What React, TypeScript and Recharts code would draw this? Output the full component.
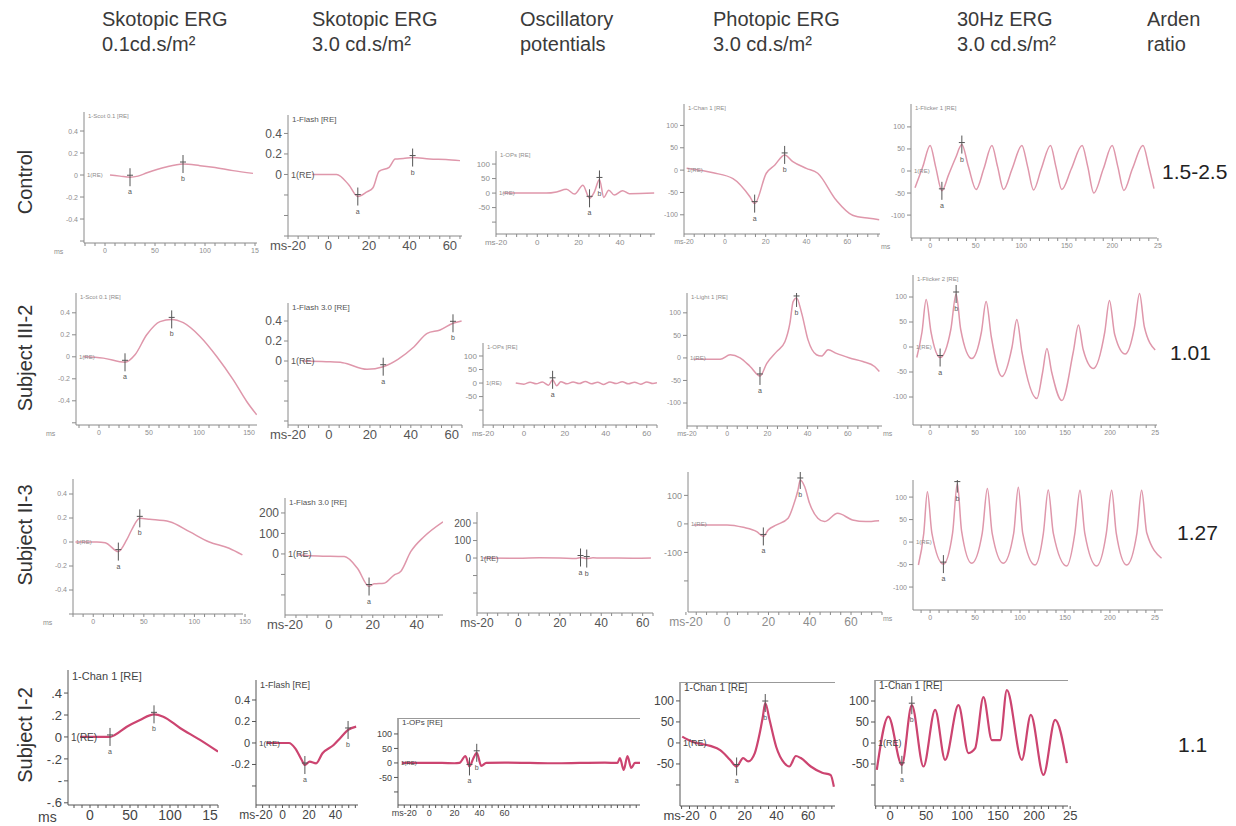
import React from 'react';
import { LineChart, Line, XAxis, YAxis, ReferenceLine } from 'recharts';

type Pt = [number, number, string?];

const columnTitles = [
  ['Skotopic ERG', '0.1cd.s/m²'],
  ['Skotopic ERG', '3.0 cd.s/m²'],
  ['Oscillatory', 'potentials'],
  ['Photopic ERG', '3.0 cd.s/m²'],
  ['30Hz ERG', '3.0 cd.s/m²'],
  ['Arden', 'ratio'],
];
const rowLabels = ['Control', 'Subject III-2', 'Subject II-3', 'Subject I-2'];
const ardenRatios = ['1.5-2.5', '1.01', '1.27', '1.1'];

// traces: [ms, amplitude, marker]
const ctlScot01: Pt[] = [[5, 0], [15, -0.01], [25, -0.02, 'a'], [33, -0.01], [42, 0.02], [60, 0.07], [78, 0.1, 'b'], [95, 0.085], [108, 0.07], [128, 0.04], [148, 0.015]];
const ctlScot30: Pt[] = [[-8, 0], [4, 0], [10, -0.1], [14.5, -0.215, 'a'], [19, -0.17], [22, -0.13], [25, 0.03], [30, 0.07], [33, 0.15], [37, 0.155], [41.6, 0.165, 'b'], [50, 0.15], [58, 0.145], [65, 0.135]];
const ctlOps: Pt[] = [[-16.5, 0], [4.4, 0], [9.3, 4], [14.1, 13], [18.1, -3.5], [22.1, 27], [25.3, -18, 'a'], [27.7, 5], [30.1, 47, 'b'], [32.2, -15], [34.6, 10], [37.3, -7], [41.3, 8], [44.6, -2], [56.6, 0]];
const ctlPhot: Pt[] = [[-18.7, 4], [-5.7, -6], [4, -19], [12.2, -59], [14.6, -75, 'a'], [20.3, -7], [24.4, 11], [29.3, 34, 'b'], [33.3, 19], [39.9, 4], [45.5, -7], [54.5, -67], [62.6, -101], [70.7, -108], [75.6, -111]];
const ctlFlicker: Pt[] = [[-16.6, -38], [-8, 10], [0, 58], [6, 10], [12.9, -45, 'a'], [20, -10], [28, 30], [34.8, 60, 'b'], [42, 10], [50.5, -42], [59, 5], [67.8, 58], [74, 10], [80.6, -42], [90, 5], [100.7, 58], [107, 10], [113.5, -43], [122, 5], [132.1, 58], [138, 10], [144.5, -42], [155, 5], [166.8, 58], [173, 10], [179.6, -50], [190, 5], [199.8, 58], [206, 10], [212.6, -44], [222, 5], [233.6, 58], [240, 10], [245.7, -40]];

const s32Scot01: Pt[] = [[-15.7, 0], [4.3, -0.012], [26, -0.05, 'a'], [36, 0.018], [47.7, 0.2], [61, 0.32], [72.7, 0.34, 'b'], [84.3, 0.31], [101, 0.185], [117.7, 0.003], [134.3, -0.21], [147.7, -0.406], [157.7, -0.527]];
const s32Scot30: Pt[] = [[-13, 0], [-1.3, -0.007], [6.7, -0.017], [18.6, -0.083], [26.5, -0.057, 'a'], [33.7, 0.017], [41.6, 0.143], [48, 0.277], [54.3, 0.31], [60.6, 0.377, 'b'], [64.8, 0.4]];
const s32Ops: Pt[] = [[-4, 0], [0, -4], [3, 3], [6, -3], [9, 4], [12, -8], [14, 12, 'a'], [16, -10], [18, 5], [21, -3], [24, 4], [27, -2], [30, 6], [33, -3], [36, 3], [39, -5], [42, 4], [45, -2], [48, 5], [51, -3], [54, 3], [57, -4], [60, 4], [63, -2], [65, 1]];
const s32Phot: Pt[] = [[-16.7, -3], [-3.5, -3], [1.5, 7], [6.4, 0], [11.4, -19], [16.3, -40, 'a'], [19.7, -12], [24.6, 14], [28.7, 36], [31.2, 77], [32.8, 125], [34.5, 133, 'b'], [37, 100], [40.2, 40], [44.4, 7], [46.9, 4], [50.2, 18], [54.3, 10], [60.9, 0], [67.5, -8], [73.3, -19], [75.7, -30]];
const s32Flicker: Pt[] = [[-14.8, -21], [-9, 30], [-4.4, 95], [1, 30], [11.1, -21, 'a'], [23, 35], [28.9, 106, 'b'], [34, 35], [46.3, -23], [57, 30], [62.2, 91], [68, 20], [79.7, -59], [91, 0], [96.3, 55], [102, -10], [118.6, -103], [125, -50], [129.7, -3], [135, -50], [146.3, -107], [159, -10], [164.8, 44], [170, -5], [181.4, -43], [194, 30], [199.2, 93], [205, 25], [216.7, -14], [227, 40], [232.6, 107], [238, 40], [250, -6]];

const s23Scot01: Pt[] = [[-17.6, 0], [3.6, 0], [11.8, -0.006], [24.8, -0.08, 'a'], [33, 0.017], [37.9, 0.1], [46, 0.197, 'b'], [55.9, 0.189], [75.5, 0.169], [95.1, 0.086], [114.7, 0], [134.3, -0.052], [147.4, -0.108]];
const s23Scot30: Pt[] = [[-14.2, -5], [-5.1, -10], [7, -13], [13, -70], [18.3, -159, 'a'], [20.6, -146], [25.1, -143], [29.7, -103], [32.7, -86], [37.3, 11], [43.3, 84], [52, 157]];
const s23Ops: Pt[] = [[-17, 0], [0, -1], [10, 1], [20, 0], [28, -2], [30, 3, 'a'], [33, -3, 'b'], [36, 1], [45, 0], [55, -1], [64, 0]];
const s23Phot: Pt[] = [[-16.2, -3.5], [-0.1, -3.5], [7.8, -12], [14.3, -27], [17.5, -44, 'a'], [19.9, -21], [23.9, -3.5], [29.5, 20], [31.9, 61], [34.3, 119], [35.4, 154, 'b'], [37.5, 131], [39.9, 72], [43.9, 20], [47.1, 8], [53.5, 37], [60.7, 14], [67.2, 8], [73.6, 11]];
const s23Flicker: Pt[] = [[-13, -51], [-7, 20], [-3, 112], [2, 20], [14.8, -49, 'a'], [25, 20], [30.3, 130, 'b'], [35, 25], [46.3, -47], [58, 20], [63.7, 119], [69, 20], [81.4, -47], [93, 20], [98.1, 122], [103, 20], [116.7, -51], [126, 20], [131.4, 116], [137, 20], [151.9, -53], [161, 20], [166.7, 115], [172, 20], [185.2, -53], [196, 20], [201.9, 115], [207, 20], [218.6, -51], [230, 20], [235.2, 115], [241, 20], [257.4, -36]];

const s12Scot01: Pt[] = [[-12.5, 0], [25, 0, 'a'], [31, 0.018], [46, 0.093], [62.5, 0.155], [80, 0.206, 'b'], [91.6, 0.185], [112.5, 0.082], [137.5, -0.027], [160, -0.134]];
const s12Scot30: Pt[] = [[-12.1, 0], [4.9, 0], [9.6, -0.05], [14.5, -0.158], [16.9, -0.205, 'a'], [20.5, -0.174], [25.4, -0.189], [30.2, -0.096], [38.6, -0.019], [43.5, 0.044], [49.5, 0.121, 'b'], [55.6, 0.152]];
const s12Ops: Pt[] = [[-22, 0], [10, 0], [20, -1], [24, 0], [28.8, 24], [32, -12, 'a'], [35.2, 17], [37.8, 35, 'b'], [41.4, -10], [45.4, 0], [60, 1], [80, 0], [100, -1], [120, 0], [140, 1], [150, 0], [152, 17], [155, -24], [158, 24], [161, -17], [164, 0], [168, 0]];
const s12Phot: Pt[] = [[-19.6, 15], [-13.3, 3], [-1.9, -7], [4.4, -17], [10.6, -40], [14.8, -56, 'a'], [18.9, -36], [22.1, -44], [26.3, -24], [29.4, 23], [31.4, 63], [32.9, 95, 'b'], [35.6, 55], [39.8, -9], [45, -48], [48.1, -56], [52.3, -31], [55.4, -36], [61.7, -56], [68.9, -71], [74.2, -76], [76.3, -104]];
const s12Flicker: Pt[] = [[-18.5, -64], [-2.4, 63], [16.3, -52, 'a'], [30.1, 90, 'b'], [46.3, -56], [62.5, 79], [76.4, -40], [94.9, 90], [108.8, -24], [118, -13], [129.6, 109], [141.3, 7], [152.8, 7], [162.1, 126], [182.9, -40], [195.4, 67], [212.9, -76], [229.2, 55], [245.4, -48]];

// tick values and labels
const xMs20 = [-20, 0, 20, 40, 60];
const xMs20Labels = ['ms-20', '0', '20', '40', '60'];
const xMs40 = [-20, 0, 20, 40];
const xMs40Labels = ['ms-20', '0', '20', '40'];
const xSlow = [0, 50, 100, 150];
const xSlowLabels = ['0', '50', '100', '150'];
const xSlowCut = ['0', '50', '100', '15'];
const xFlick = [0, 50, 100, 150, 200, 250];
const xFlickLabels = ['0', '50', '100', '150', '200', '25'];
const yUv = [0.4, 0.2, 0, -0.2, -0.4, -0.6];
const yUvLabels = ['0.4', '0.2', '0', '-0.2', '-0.4', ''];
const yUvShortLabels = ['0.4', '0.2', '0', '', '', ''];
const yUvI2 = ['.4', '.2', '0', '-.2', '-', '-.6'];
const yHalf = [100, 50, 0, -50, -100];
const yHalfLabels = ['100', '50', '0', '-50', '-100'];
const yHalfShort = ['100', '50', '0', '-50', ''];
const y200 = [200, 100, 0, -100, -200];
const y200Labels = ['200', '100', '0', '', ''];
const y100 = [100, 0, -100, -200];
const y100Labels = ['100', '0', '-100', ''];

type Cell = {
  data: Pt[];
  ax: number; top: number; bottom: number; right: number;
  xDomain: [number, number]; xTicks: number[]; xLabels: string[]; minor: number;
  yDomain: [number, number]; yTicks: number[]; yLabels: string[];
  fs: number; xfs: number; hfs: number; head: string;
  dark?: boolean; frame?: boolean; ms?: boolean;
};

const cells: Cell[] = [
  // Control
  { data: ctlScot01, ax: 84, top: 112, bottom: 243, right: 257, xDomain: [-21, 152], xTicks: xSlow, xLabels: xSlowCut, minor: 10, yDomain: [-0.618, 0.573], yTicks: yUv, yLabels: yUvLabels, fs: 7, xfs: 7, hfs: 6, head: '1-Scot 0.1 [RE]', ms: true },
  { data: ctlScot30, ax: 288, top: 115, bottom: 236, right: 462, xDomain: [-20, 66], xTicks: xMs20, xLabels: xMs20Labels, minor: 5, yDomain: [-0.6, 0.58], yTicks: yUv, yLabels: yUvShortLabels, fs: 12, xfs: 13, hfs: 8, head: '1-Flash [RE]' },
  { data: ctlOps, ax: 496, top: 151, bottom: 234, right: 655, xDomain: [-20, 57], xTicks: xMs40, xLabels: xMs40Labels, minor: 5, yDomain: [-141, 145], yTicks: yHalf, yLabels: yHalfShort, fs: 8, xfs: 8, hfs: 6, head: '1-OPs [RE]' },
  { data: ctlPhot, ax: 684, top: 104, bottom: 234, right: 880, xDomain: [-20, 76], xTicks: xMs20, xLabels: xMs20Labels, minor: 5, yDomain: [-143, 148], yTicks: yHalf, yLabels: yHalfLabels, fs: 7, xfs: 7, hfs: 6, head: '1-Chan 1 [RE]' },
  { data: ctlFlicker, ax: 911, top: 104, bottom: 238, right: 1157, xDomain: [-21, 249], xTicks: xFlick, xLabels: xFlickLabels, minor: 10, yDomain: [-152, 152], yTicks: yHalf, yLabels: yHalfLabels, fs: 7, xfs: 7, hfs: 6, head: '1-Flicker 1 [RE]', ms: true },
  // Subject III-2
  { data: s32Scot01, ax: 76, top: 293, bottom: 425, right: 257, xDomain: [-23, 158], xTicks: xSlow, xLabels: xSlowLabels, minor: 10, yDomain: [-0.62, 0.58], yTicks: yUv, yLabels: yUvLabels, fs: 7, xfs: 7, hfs: 6, head: '1-Scot 0.1 [RE]', ms: true },
  { data: s32Scot30, ax: 288, top: 303, bottom: 425, right: 462, xDomain: [-20, 65], xTicks: xMs20, xLabels: xMs20Labels, minor: 5, yDomain: [-0.64, 0.58], yTicks: yUv, yLabels: yUvShortLabels, fs: 12, xfs: 13, hfs: 8, head: '1-Flash 3.0 [RE]' },
  { data: s32Ops, ax: 483, top: 343, bottom: 425, right: 657, xDomain: [-20, 65], xTicks: xMs20, xLabels: xMs20Labels, minor: 5, yDomain: [-155, 148], yTicks: yHalf, yLabels: yHalfShort, fs: 8, xfs: 8, hfs: 6, head: '1-OPs [RE]' },
  { data: s32Phot, ax: 687, top: 293, bottom: 426, right: 882, xDomain: [-20, 77], xTicks: xMs20, xLabels: xMs20Labels, minor: 5, yDomain: [-151, 144], yTicks: yHalf, yLabels: yHalfLabels, fs: 7, xfs: 7, hfs: 6, head: '1-Light 1 [RE]' },
  { data: s32Flicker, ax: 913, top: 275, bottom: 425, right: 1157, xDomain: [-19, 252], xTicks: xFlick, xLabels: xFlickLabels, minor: 10, yDomain: [-156, 144], yTicks: yHalf, yLabels: yHalfLabels, fs: 7, xfs: 7, hfs: 6, head: '1-Flicker 2 [RE]', ms: true },
  // Subject II-3
  { data: s23Scot01, ax: 73, top: 479, bottom: 614, right: 243, xDomain: [-20, 148], xTicks: xSlow, xLabels: xSlowLabels, minor: 10, yDomain: [-0.6, 0.525], yTicks: yUv, yLabels: yUvLabels, fs: 7, xfs: 7, hfs: 6, head: '', ms: true },
  { data: s23Scot30, ax: 285, top: 498, bottom: 615, right: 443, xDomain: [-20, 52], xTicks: xMs40, xLabels: xMs40Labels, minor: 5, yDomain: [-298, 273], yTicks: y200, yLabels: y200Labels, fs: 12, xfs: 13, hfs: 8, head: '1-Flash 3.0 [RE]' },
  { data: s23Ops, ax: 477, top: 512, bottom: 613, right: 653, xDomain: [-20, 65], xTicks: xMs20, xLabels: xMs20Labels, minor: 5, yDomain: [-314, 263], yTicks: y200, yLabels: y200Labels, fs: 10, xfs: 12, hfs: 6, head: '' },
  { data: s23Phot, ax: 688, top: 472, bottom: 612, right: 882, xDomain: [-19, 75], xTicks: xMs20, xLabels: xMs20Labels, minor: 5, yDomain: [-309, 182], yTicks: y100, yLabels: y100Labels, fs: 9, xfs: 12, hfs: 6, head: '' },
  { data: s23Flicker, ax: 913, top: 480, bottom: 610, right: 1163, xDomain: [-19, 259], xTicks: xFlick, xLabels: xFlickLabels, minor: 10, yDomain: [-151, 138], yTicks: yHalf, yLabels: yHalfLabels, fs: 7, xfs: 7, hfs: 6, head: '', ms: true },
  // Subject I-2
  { data: s12Scot01, ax: 68, top: 670, bottom: 805, right: 218, xDomain: [-27.5, 160], xTicks: xSlow, xLabels: xSlowCut, minor: 10, yDomain: [-0.62, 0.61], yTicks: yUv, yLabels: yUvI2, fs: 13, xfs: 14, hfs: 11, head: '1-Chan 1 [RE]', dark: true, ms: true },
  { data: s12Scot30, ax: 256, top: 680, bottom: 805, right: 358, xDomain: [-20, 57], xTicks: xMs40, xLabels: xMs40Labels, minor: 5, yDomain: [-0.577, 0.586], yTicks: [0.4, 0.2, 0, -0.2, -0.4], yLabels: ['0.4', '0.2', '0', '-0.2', ''], fs: 11, xfs: 12, hfs: 9, head: '1-Flash [RE]', dark: true },
  { data: s12Ops, ax: 398, top: 718, bottom: 805, right: 640, xDomain: [-25, 168], xTicks: xMs20, xLabels: xMs20Labels, minor: 5, yDomain: [-145, 155], yTicks: yHalf, yLabels: yHalfShort, fs: 9, xfs: 9, hfs: 8, head: '1-OPs [RE]', dark: true, frame: true },
  { data: s12Phot, ax: 680, top: 682, bottom: 806, right: 835, xDomain: [-21, 77], xTicks: xMs20, xLabels: xMs20Labels, minor: 5, yDomain: [-150, 145], yTicks: yHalf, yLabels: yHalfShort, fs: 12, xfs: 13, hfs: 10, head: '1-Chan 1 [RE]', dark: true, frame: true },
  { data: s12Flicker, ax: 875, top: 680, bottom: 806, right: 1068, xDomain: [-21, 247], xTicks: xFlick, xLabels: xFlickLabels, minor: 10, yDomain: [-150, 150], yTicks: yHalf, yLabels: yHalfShort, fs: 12, xfs: 13, hfs: 10, head: '1-Chan 1 [RE]', dark: true, frame: true },
];

const YW = 34;
const XH = 24;
const MT = 2;
const MR = 14;

const renderMark = (p: any) => {
  const { cx, cy, payload, index } = p;
  if (!payload || !payload.m || cx == null) return <g key={`m${index}`} />;
  return (
    <g key={`m${index}`}>
      <line x1={cx} x2={cx} y1={cy - 9} y2={cy + 9} stroke="#555" strokeWidth={1} />
      <line x1={cx - 3} x2={cx + 3} y1={cy - 2} y2={cy - 2} stroke="#555" strokeWidth={1} />
      <text x={cx} y={cy + 17} fontSize={7} textAnchor="middle" fill="#555">{payload.m}</text>
    </g>
  );
};

const Trace = ({ c }: { c: Cell }) => {
  const plotW = c.right - c.ax;
  const plotH = c.bottom - c.top;
  const rows = c.data.map(([t, v, m]) => ({ t, v, m }));
  const minorTicks: number[] = [];
  for (let t = Math.ceil(c.xDomain[0] / c.minor) * c.minor; t <= c.xDomain[1]; t += c.minor) minorTicks.push(t);
  const ticks = Array.from(new Set([...minorTicks, ...c.xTicks])).sort((a, b) => a - b);
  const stroke = c.dark ? '#cc4470' : '#df97ab';
  const axis = c.dark ? '#555' : '#8a8a8a';
  const txt = c.dark ? '#444' : c.fs > 9 ? '#555' : '#8d8d8d';

  return (
    <div style={{ position: 'absolute', left: c.ax - YW, top: c.top - MT }}>
      <LineChart width={plotW + YW + MR} height={plotH + MT + XH} data={rows} margin={{ top: MT, right: MR, left: 0, bottom: 0 }}>
        <XAxis
          type="number"
          dataKey="t"
          domain={c.xDomain}
          allowDataOverflow
          ticks={ticks}
          interval={0}
          height={XH}
          tickSize={3}
          axisLine={{ stroke: axis }}
          tickLine={{ stroke: axis }}
          tick={{ fontSize: c.xfs, fill: txt }}
          tickFormatter={(v: number) => {
            const i = c.xTicks.indexOf(v);
            return i >= 0 ? c.xLabels[i] : '';
          }}
        />
        <YAxis
          type="number"
          domain={c.yDomain}
          allowDataOverflow
          ticks={c.yTicks}
          interval={0}
          width={YW}
          tickSize={4}
          axisLine={{ stroke: axis }}
          tickLine={{ stroke: axis }}
          tick={{ fontSize: c.fs, fill: txt }}
          tickFormatter={(v: number) => {
            const i = c.yTicks.indexOf(v);
            return i >= 0 ? c.yLabels[i] : '';
          }}
        />
        <ReferenceLine y={0} stroke="none" label={{ value: '1(RE)', position: 'insideLeft', fontSize: Math.max(6, c.fs - 3), fill: txt, offset: 3 }} />
        <Line type="monotone" dataKey="v" stroke={stroke} strokeWidth={c.dark ? 2.2 : 1.5} dot={renderMark} activeDot={false} isAnimationActive={false} />
      </LineChart>
      {c.frame && (
        <div style={{ position: 'absolute', left: YW, top: MT, width: plotW, borderTop: '1px solid #999' }} />
      )}
      {c.head && (
        <div style={{ position: 'absolute', left: YW + 4, top: MT + 1, fontSize: c.hfs, color: txt, whiteSpace: 'nowrap', lineHeight: 1 }}>{c.head}</div>
      )}
      {c.ms && (
        <div style={{ position: 'absolute', left: YW - 30, top: MT + plotH + 5, fontSize: c.xfs, color: txt, lineHeight: 1 }}>ms</div>
      )}
    </div>
  );
};

const titleX = [102, 312, 520, 713, 957, 1147];
const rowY = [182, 358, 535, 735];
const ardenX = [1162, 1170, 1177, 1178];
const ardenY = [172, 353, 533, 745];

const App = () => {
  return (
    <div style={{ position: 'absolute', left: 0, top: 0, width: 1236, height: 826, background: '#fff', overflow: 'hidden', fontFamily: '"Liberation Sans", Arial, sans-serif' }}>
      {columnTitles.map((t, i) => (
        <div key={t[0] + i} style={{ position: 'absolute', left: titleX[i], top: 7, fontSize: 20, lineHeight: '25px', color: '#3a3a3a', whiteSpace: 'nowrap' }}>
          <div>{t[0]}</div>
          <div>{t[1]}</div>
        </div>
      ))}
      {rowLabels.map((r, i) => (
        <div key={r} style={{ position: 'absolute', left: 25, top: rowY[i], transform: 'translate(-50%, -50%) rotate(-90deg)', fontSize: 20, color: '#333', whiteSpace: 'nowrap' }}>{r}</div>
      ))}
      {ardenRatios.map((a, i) => (
        <div key={a} style={{ position: 'absolute', left: ardenX[i], top: ardenY[i], transform: 'translateY(-50%)', fontSize: 21, color: '#222', whiteSpace: 'nowrap' }}>{a}</div>
      ))}
      {cells.map((c, i) => (
        <Trace key={i} c={c} />
      ))}
    </div>
  );
};

export default App;
